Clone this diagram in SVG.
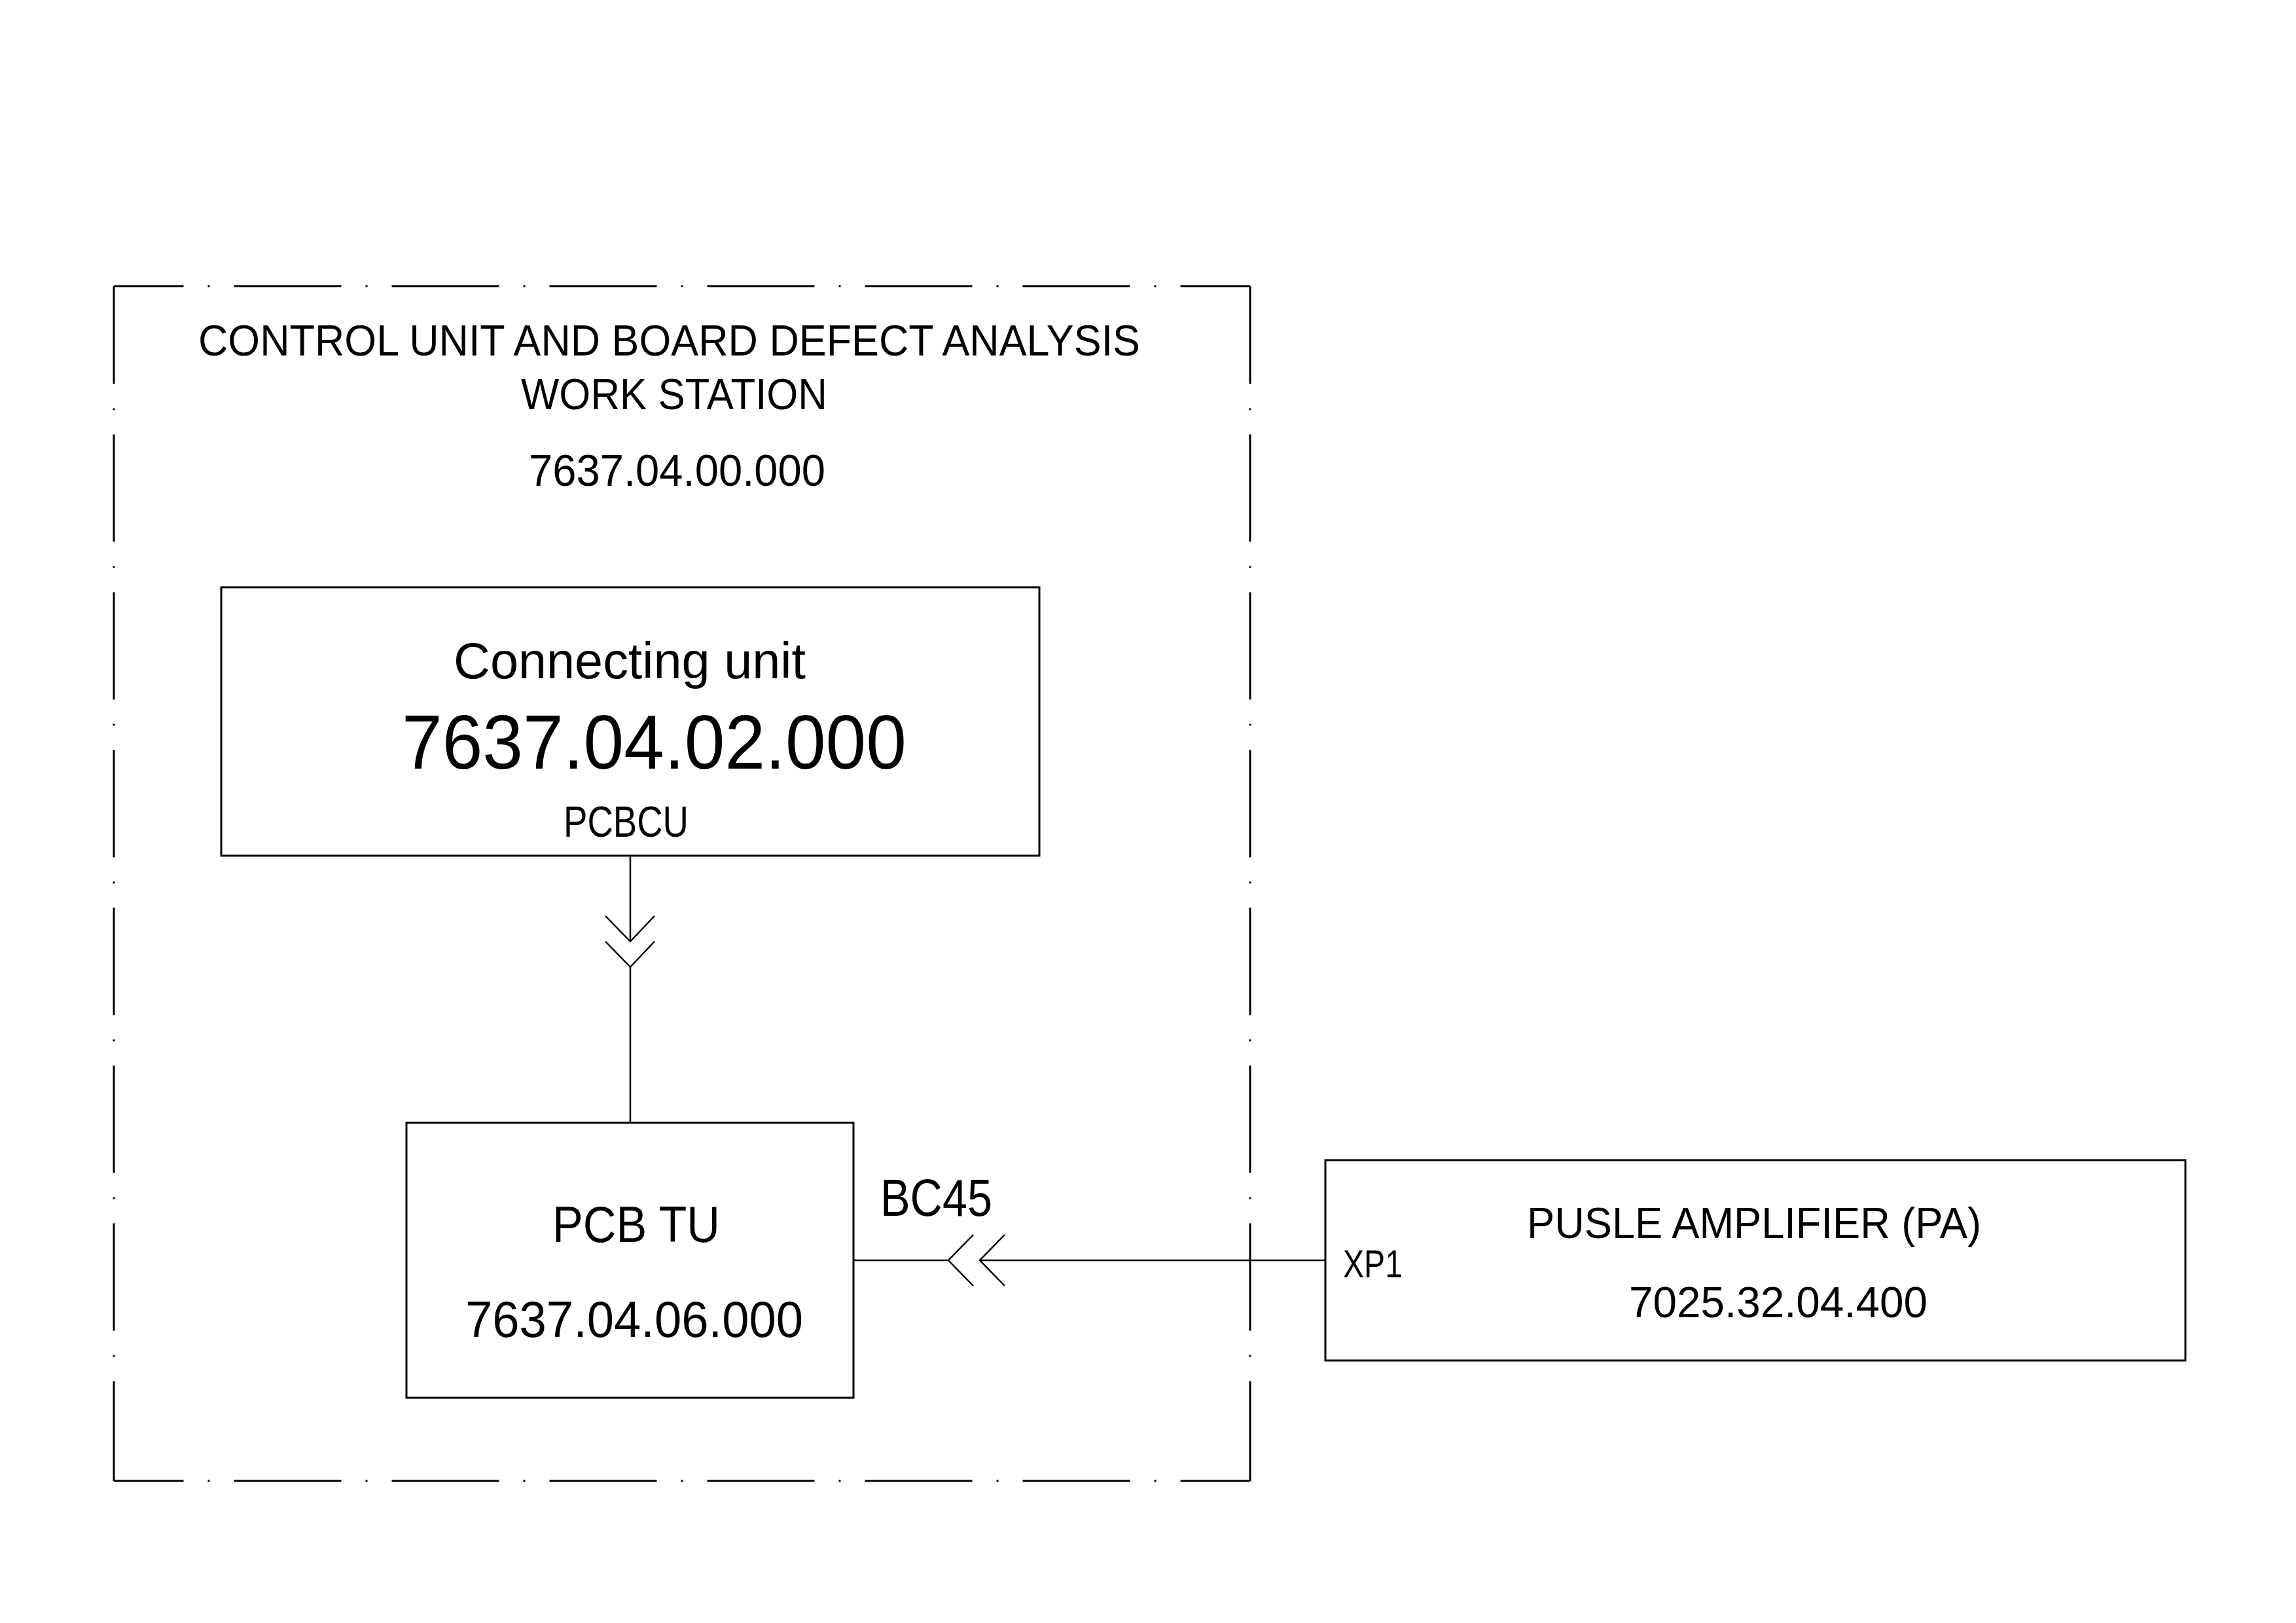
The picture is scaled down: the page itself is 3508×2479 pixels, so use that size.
<svg xmlns="http://www.w3.org/2000/svg" width="3508" height="2479" viewBox="0 0 3508 2479">
<style>
.bg{fill:#fff}
.box{fill:none;stroke:#000;stroke-width:3}
.frame{fill:none;stroke:#000;stroke-width:3;stroke-dasharray:164 37 3 37}
.wire{fill:none;stroke:#000;stroke-width:2.5}
.t{font-family:"Liberation Sans",Arial,sans-serif;fill:#000}
</style>
<rect class="bg" x="0" y="0" width="3508" height="2479"/>
<g id="workstation">
  <line class="frame" x1="174" y1="437" x2="1910" y2="437" stroke-dashoffset="57.5"/>
  <line class="frame" x1="174" y1="2262" x2="1910" y2="2262" stroke-dashoffset="57.5"/>
  <line class="frame" x1="174" y1="437" x2="174" y2="2262" stroke-dashoffset="14.5"/>
  <line class="frame" x1="1910" y1="437" x2="1910" y2="2262" stroke-dashoffset="14.5"/>
  <text class="t" x="303" y="543" font-size="67" textLength="1439" lengthAdjust="spacingAndGlyphs">CONTROL UNIT AND BOARD DEFECT ANALYSIS</text>
  <text class="t" x="796" y="625" font-size="67" textLength="468" lengthAdjust="spacingAndGlyphs">WORK STATION</text>
  <text class="t" x="808" y="742" font-size="68" textLength="453" lengthAdjust="spacingAndGlyphs">7637.04.00.000</text>
</g>
<g id="connecting-unit">
  <rect class="box" x="338" y="897" width="1250" height="410"/>
  <text class="t" x="693" y="1036" font-size="78" textLength="538" lengthAdjust="spacingAndGlyphs">Connecting unit</text>
  <text class="t" x="614" y="1174" font-size="116" textLength="771" lengthAdjust="spacingAndGlyphs">7637.04.02.000</text>
  <text class="t" x="861" y="1278" font-size="67" textLength="191" lengthAdjust="spacingAndGlyphs">PCBCU</text>
</g>
<g id="pcb-tu">
  <rect class="box" x="621" y="1715" width="683" height="420"/>
  <text class="t" x="844" y="1897" font-size="78" textLength="256" lengthAdjust="spacingAndGlyphs">PCB TU</text>
  <text class="t" x="711" y="2042" font-size="78" textLength="516" lengthAdjust="spacingAndGlyphs">7637.04.06.000</text>
</g>
<g id="pulse-amplifier">
  <rect class="box" x="2025" y="1772" width="1314" height="306"/>
  <text class="t" x="2333" y="1891" font-size="67" textLength="694" lengthAdjust="spacingAndGlyphs">PUSLE AMPLIFIER (PA)</text>
  <text class="t" x="2489" y="2012" font-size="67" textLength="456" lengthAdjust="spacingAndGlyphs">7025.32.04.400</text>
  <text class="t" x="2052" y="1951" font-size="59" textLength="91" lengthAdjust="spacingAndGlyphs">XP1</text>
</g>
<g id="connectors">
  <line class="wire" x1="963" y1="1307" x2="963" y2="1438"/>
  <polyline class="wire" points="925,1399 963,1438 1000,1399"/>
  <polyline class="wire" points="925,1438 963,1477 1000,1438"/>
  <line class="wire" x1="963" y1="1477" x2="963" y2="1715"/>
  <line class="wire" x1="1304" y1="1925" x2="1449" y2="1925"/>
  <polyline class="wire" points="1487,1886 1449,1925 1487,1964"/>
  <polyline class="wire" points="1535,1886 1497,1925 1535,1964"/>
  <line class="wire" x1="1497" y1="1925" x2="2025" y2="1925"/>
  <text class="t" x="1345" y="1857" font-size="80" textLength="171" lengthAdjust="spacingAndGlyphs">BC45</text>
</g>
</svg>
